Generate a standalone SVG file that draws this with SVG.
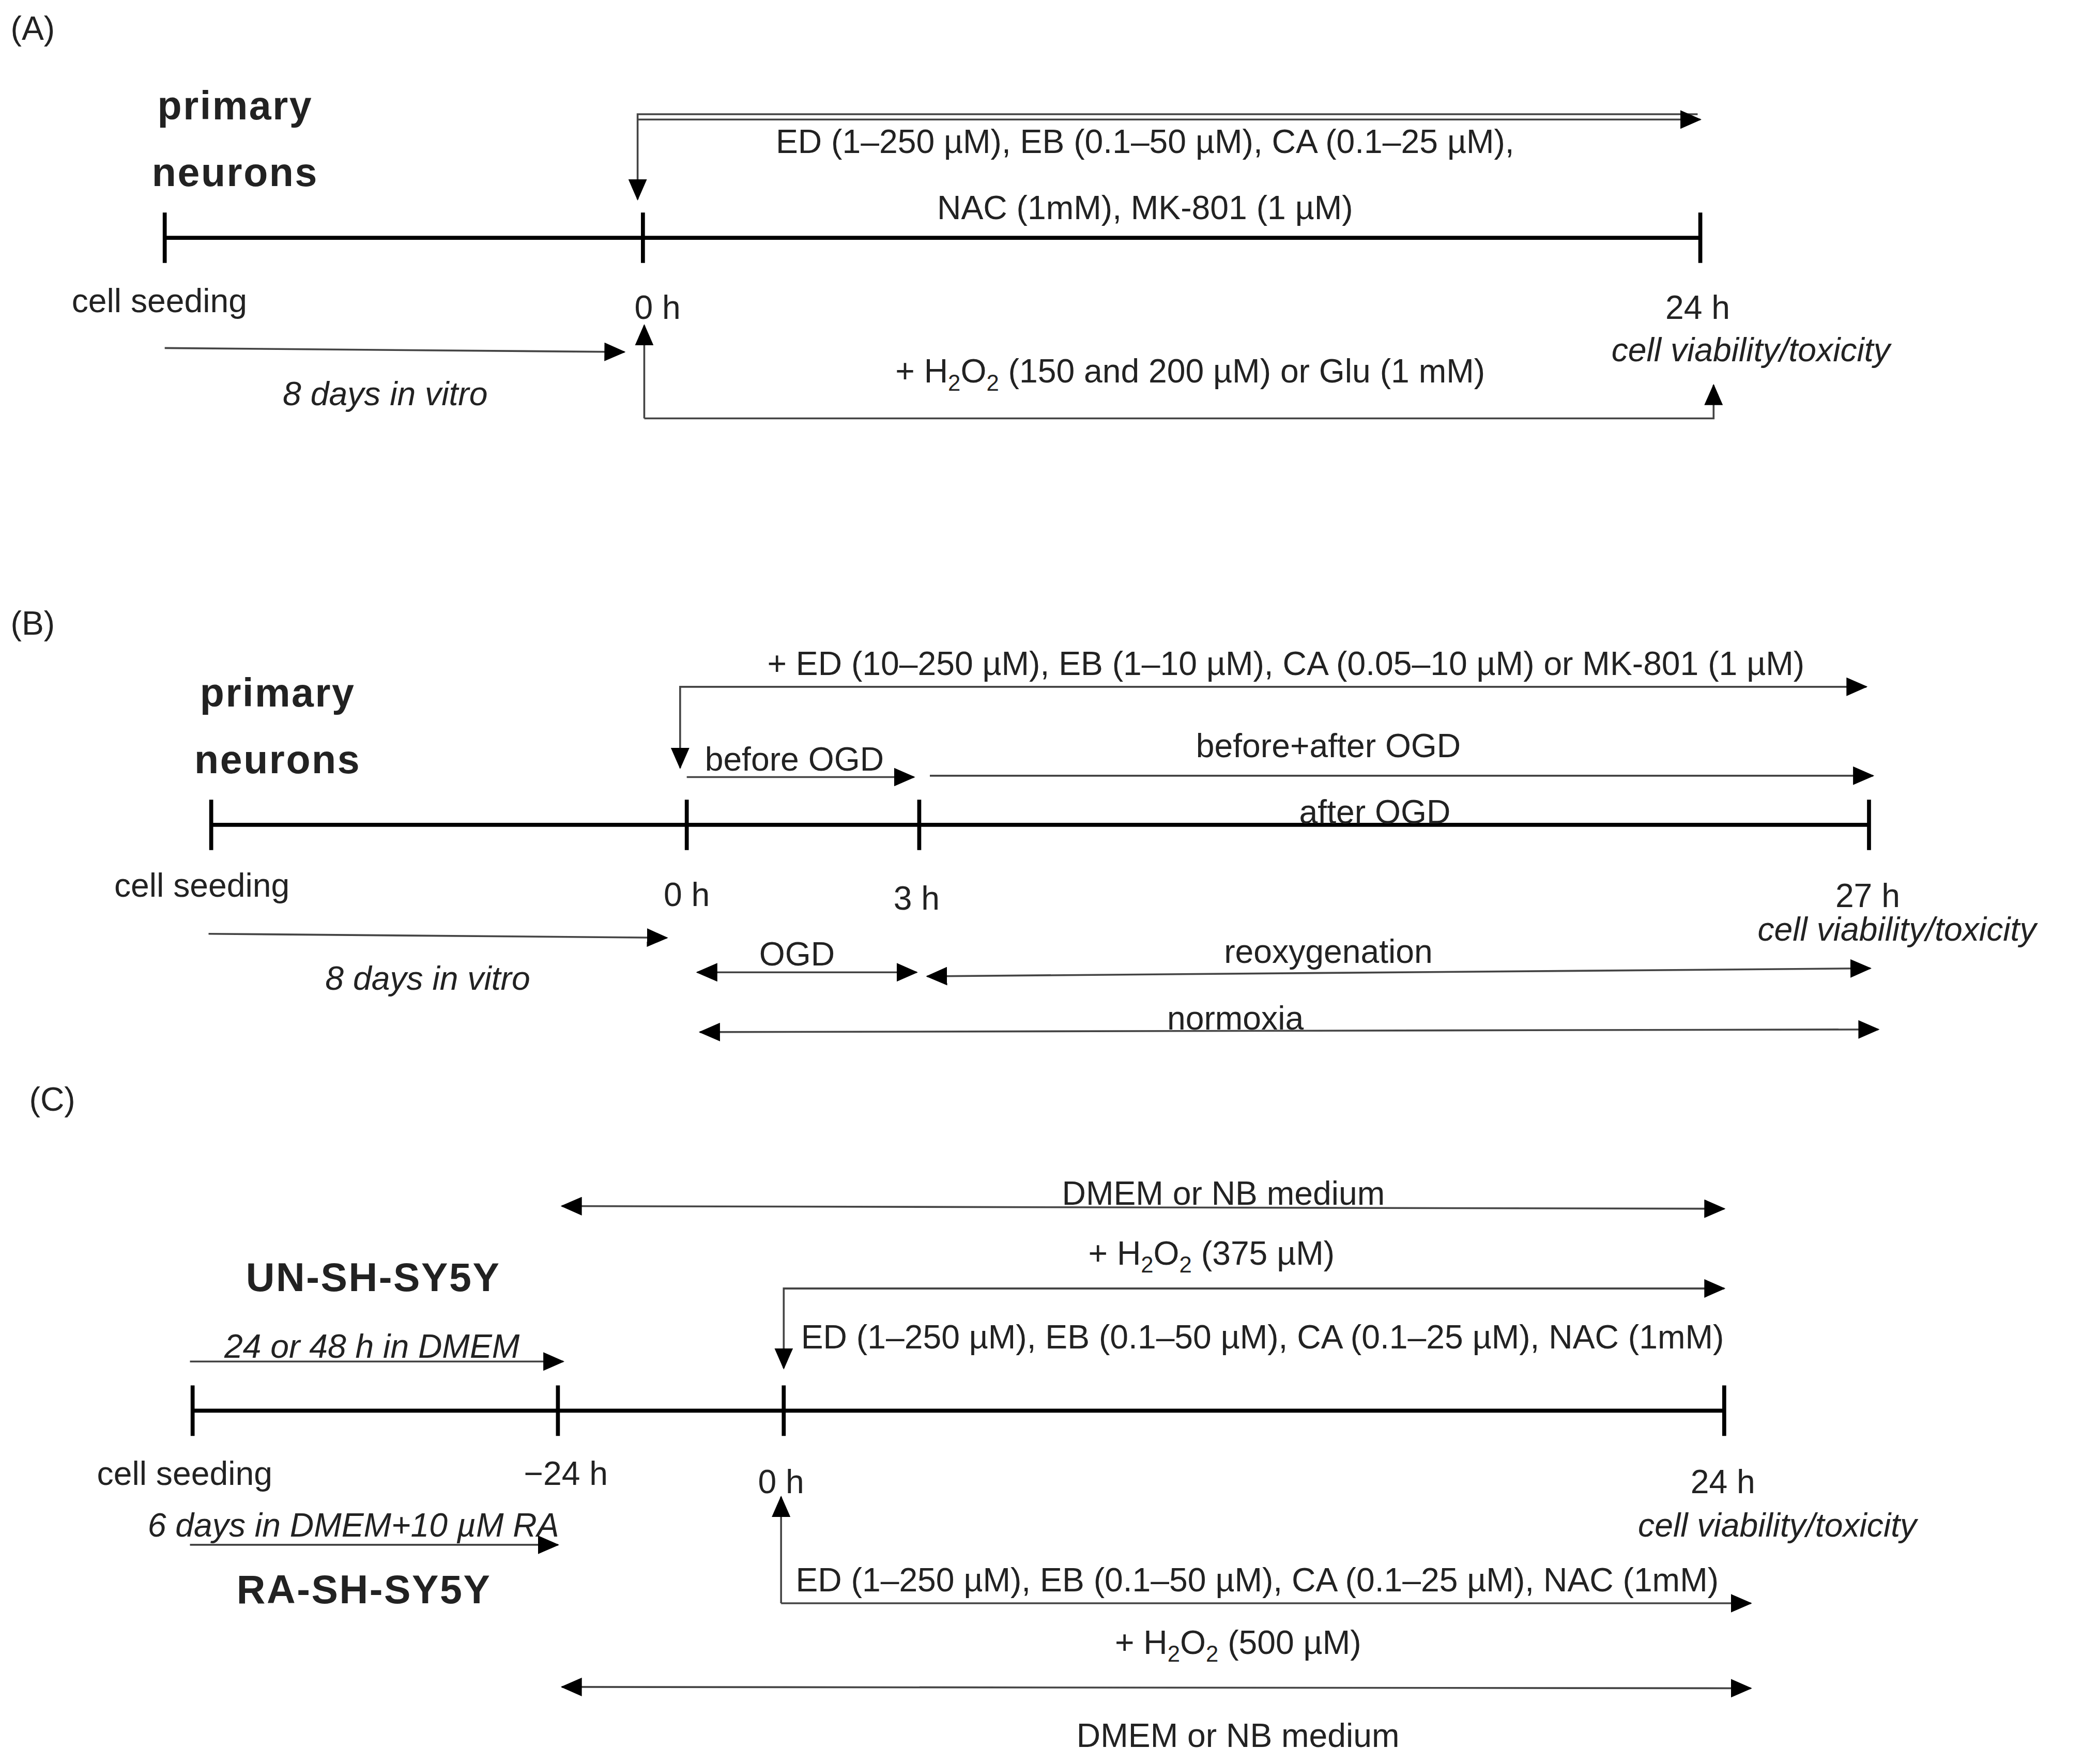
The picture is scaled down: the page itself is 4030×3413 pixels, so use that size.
<svg xmlns="http://www.w3.org/2000/svg" width="4030" height="3413" viewBox="0 0 4030 3413">
<style>
text{font-family:"Liberation Sans",Arial,sans-serif;font-size:25px;fill:#222}
.c{text-anchor:middle}.i{font-style:italic}.b{font-weight:bold;font-size:30px;letter-spacing:1px}
.tl{stroke:#000;stroke-width:3;fill:none}
.ln{stroke:#444;stroke-width:1.4;fill:none}
.ar{marker-end:url(#ah)}.da{marker-start:url(#ah);marker-end:url(#ah)}
</style>
<defs><marker id="ah" markerUnits="userSpaceOnUse" markerWidth="16" markerHeight="14" refX="15" refY="7" orient="auto-start-reverse"><path d="M0,0L16,7L0,14z" fill="#000"/></marker></defs>
<rect width="4030" height="3413" fill="#fff"/>
<g transform="scale(2.57)">
<g id="panelA">
<text x="8" y="30">(A)</text>
<text class="c b" x="177" y="90">primary</text><text class="c b" x="177" y="140">neurons</text>
<path class="tl" d="M124,179H1280M124,160V198M484,160V198M1280,160V198"/>
<text class="c" x="120" y="235">cell seeding</text>
<text class="c" x="495" y="240">0 h</text><text class="c" x="1278" y="240">24 h</text>
<text class="c i" x="1318" y="272">cell viability/toxicity</text>
<text class="c i" x="290" y="305">8 days in vitro</text>
<text class="c" x="862" y="115">ED (1–250 µM), EB (0.1–50 µM), CA (0.1–25 µM),</text>
<text class="c" x="862" y="165">NAC (1mM), MK-801 (1 µM)</text>
<text class="c" x="896" y="288">+ H<tspan font-size="17" dy="6">2</tspan><tspan dy="-6">O</tspan><tspan font-size="17" dy="6">2</tspan><tspan dy="-6"> (150 and 200 µM) or Glu (1 mM)</tspan></text>
</g>
<g id="panelB">
<text x="8" y="478">(B)</text>
<text class="c b" x="209" y="532">primary</text><text class="c b" x="209" y="582">neurons</text>
<path class="tl" d="M159,621H1407M159,602V640M517,602V640M692,602V640M1407,602V640"/>
<text class="c" x="152" y="675">cell seeding</text>
<text class="c" x="517" y="682">0 h</text><text class="c" x="690" y="685">3 h</text><text class="c" x="1406" y="683">27 h</text>
<text class="c i" x="1428" y="708">cell viability/toxicity</text>
<text class="c i" x="322" y="745">8 days in vitro</text>
<text class="c" x="968" y="508">+ ED (10–250 µM), EB (1–10 µM), CA (0.05–10 µM) or MK-801 (1 µM)</text>
<text class="c" x="598" y="580">before OGD</text>
<text class="c" x="1000" y="570">before+after OGD</text>
<text class="c" x="1035" y="620">after OGD</text>
<text class="c" x="600" y="727">OGD</text>
<text class="c" x="1000" y="725">reoxygenation</text>
<text class="c" x="930" y="775">normoxia</text>
</g>
<g id="panelC">
<text x="22" y="836">(C)</text>
<text class="c" x="921" y="907">DMEM or NB medium</text>
<text class="c" x="912" y="952">+ H<tspan font-size="17" dy="6">2</tspan><tspan dy="-6">O</tspan><tspan font-size="17" dy="6">2</tspan><tspan dy="-6"> (375 µM)</tspan></text>
<text x="603" y="1015">ED (1–250 µM), EB (0.1–50 µM), CA (0.1–25 µM), NAC (1mM)</text>
<text class="c b" x="281" y="972">UN-SH-SY5Y</text>
<text class="c i" x="280" y="1022">24 or 48 h in DMEM</text>
<path class="tl" d="M145,1062H1298M145,1043V1081M420,1043V1081M590,1043V1081M1298,1043V1081"/>
<text class="c" x="139" y="1118">cell seeding</text>
<text class="c" x="426" y="1118">−24 h</text><text class="c" x="588" y="1124">0 h</text><text class="c" x="1297" y="1124">24 h</text>
<text class="c i" x="1338" y="1157">cell viability/toxicity</text>
<text class="c i" x="266" y="1157">6 days in DMEM+10 µM RA</text>
<text class="c b" x="274" y="1207">RA-SH-SY5Y</text>
<text x="599" y="1198">ED (1–250 µM), EB (0.1–50 µM), CA (0.1–25 µM), NAC (1mM)</text>
<text class="c" x="932" y="1245">+ H<tspan font-size="17" dy="6">2</tspan><tspan dy="-6">O</tspan><tspan font-size="17" dy="6">2</tspan><tspan dy="-6"> (500 µM)</tspan></text>
<text class="c" x="932" y="1315">DMEM or NB medium</text>
</g>
<g id="connectors">
<path class="ln ar" d="M1278,86H480V150"/>
<path class="ln ar" d="M480,90H1280"/>
<path class="ln ar" d="M124,262L470,265"/>
<path class="ln ar" d="M485,315V245"/>
<path class="ln ar" d="M485,315H1290V290"/>
<path class="ln ar" d="M1405,517H512V578"/>
<path class="ln ar" d="M512,517H1405"/>
<path class="ln ar" d="M517,585H688"/>
<path class="ln ar" d="M700,584H1410"/>
<path class="ln ar" d="M157,703L502,706"/>
<path class="ln da" d="M525,732H690"/>
<path class="ln da" d="M698,735L1408,729"/>
<path class="ln da" d="M527,777L1414,775"/>
<path class="ln da" d="M423,908L1298,910"/>
<path class="ln ar" d="M1298,970H590V1030"/>
<path class="ln ar" d="M590,970H1298"/>
<path class="ln ar" d="M143,1025H424"/>
<path class="ln ar" d="M143,1163H420"/>
<path class="ln ar" d="M588,1207V1127"/>
<path class="ln ar" d="M588,1207H1318"/>
<path class="ln da" d="M423,1270L1318,1271"/>
</g>
</g>
</svg>
